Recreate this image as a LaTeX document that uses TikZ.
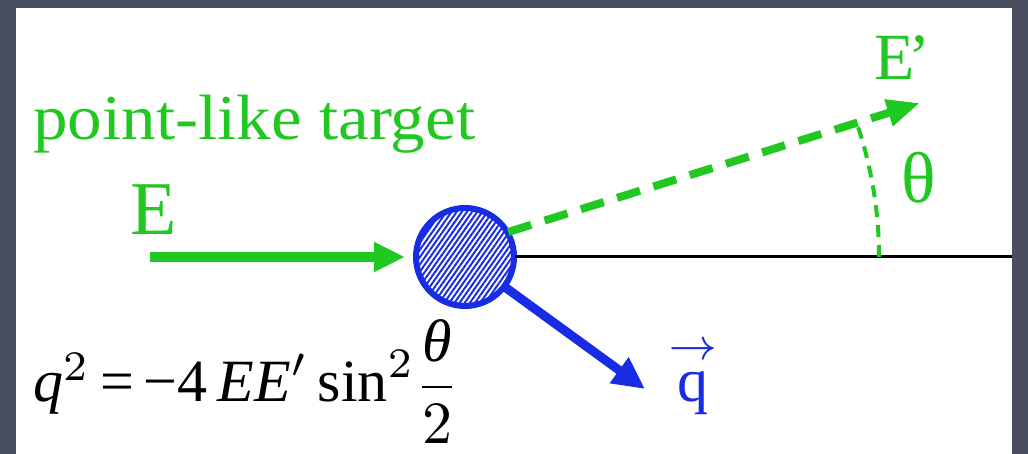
\documentclass[tikz,border=0pt]{standalone}
\usepackage{amsmath}
\usepackage{fontspec}
\setmainfont{Liberation Serif}
\usepackage{tikz}
\usetikzlibrary{positioning,
                arrows.meta,
                patterns.meta}
\definecolor{beamgreen}{RGB}{34,200,34}
\definecolor{targetblue}{RGB}{24,44,228}
\definecolor{slidegray}{RGB}{74,79,95}

\begin{document}
\begin{tikzpicture}[x=1pt,y=1pt]

\tikzset{
greenlabel/.style={
text=beamgreen,
inner sep=0pt,
anchor=base west
},
target/.style={
circle,
draw=targetblue,
line width=6pt,
minimum size=98pt,
pattern={Lines[angle=55,distance=4.2pt,line width=2pt]},
pattern color=targetblue
},
beamin/.style={
draw=beamgreen,
line width=10pt,
shorten >=10pt,
-{Triangle[length=31pt,width=28pt]}
},
beamout/.style={
draw=beamgreen,
line width=8pt,
dash pattern=on 24pt off 14pt,
-{Triangle[length=33pt,width=26pt]}
},
anglearc/.style={
draw=beamgreen,
line width=4pt,
dash pattern=on 12pt off 8pt
},
qarrow/.style={
draw=targetblue,
line width=9pt,
-{Triangle[length=32pt,width=30pt]}
},
axisline/.style={
draw=black,
line width=3pt
}
}

\useasboundingbox (0,0) rectangle (1028,454);

%--------------------------------------------------
% SLIDE
%--------------------------------------------------

\fill[slidegray] (0,0) rectangle (1028,454);
\fill[white] (16,0) rectangle (1012,446);

\begin{scope}
\clip (16,0) rectangle (1012,446);

%--------------------------------------------------
% TARGET AND BEAMS
%--------------------------------------------------

\node[target] (tgt) at (465,197) {};

\coordinate (ein) at (150,197);
\coordinate (eout) at (920,351);
\coordinate (qtip) at (645,65);
\coordinate (axisend) at (1012,197);

\draw[axisline] (tgt.east) -- (axisend);
\draw[beamin] (ein) -- (tgt.west);
\draw[beamout] (tgt.30) -- (eout);
\draw[anglearc] ([shift={(0:414)}]tgt.center) arc[start angle=0,end angle=18.5,radius=414];
\draw[qarrow] (tgt.-37) -- (qtip);

%--------------------------------------------------
% LABELS
%--------------------------------------------------

\node[greenlabel,font=\fontsize{64}{70}\selectfont,xscale=1.08] (lbltarget) at (-15,314) {a point-like target};
\node[greenlabel,font=\fontsize{76}{80}\selectfont] (lble) at (130,219) {E};
\node[greenlabel,font=\fontsize{66}{70}\selectfont] (lbleprime) at (874,374) {E\kern-6pt’};
\node[greenlabel,font=\fontsize{72}{76}\selectfont] (lbltheta) at (901,251) {θ};
\node[anchor=base west,inner sep=0pt,text=targetblue] (lblq) at (668,52)
  {\scalebox{6.2}{$\overset{\rightarrow}{\textrm{q}}$}};
\node[anchor=base west,inner sep=0pt] (formula) at (33,52)
  {\scalebox{6}{$\textit{q}^{2}\,\textrm{=}\,\textrm{−4}\,\textit{EE}'\,\textrm{sin}^{2}\dfrac{\textit{θ}}{2}$}};

\end{scope}

\end{tikzpicture}
\end{document}
